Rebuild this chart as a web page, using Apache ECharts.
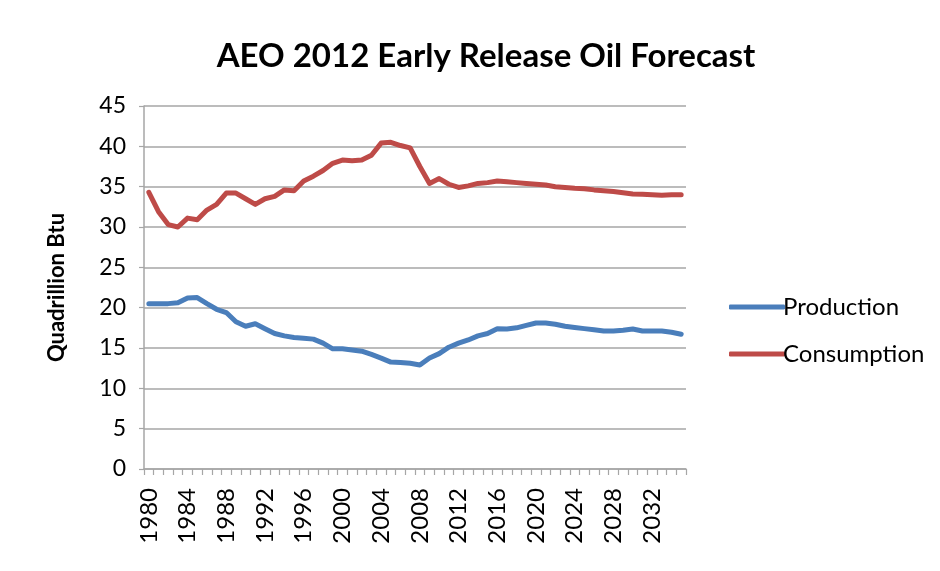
<!DOCTYPE html>
<html>
<head>
<meta charset="utf-8">
<script src="https://cdn.jsdelivr.net/npm/echarts@6/dist/echarts.min.js"></script>
<style>
  html, body { margin: 0; padding: 0; background: #fff; }
  #chart { width: 940px; height: 571px; }
</style>
</head>
<body>
<div id="chart"></div>
<script>
// Years 1980–2035
const years = [];
for (let y = 1980; y <= 2035; y++) years.push(String(y));

// Quadrillion Btu
const production = [
  20.5, 20.5, 20.5, 20.6, 21.2, 21.25, 20.5, 19.8, 19.4, 18.25,
  17.7, 18.0, 17.4, 16.8, 16.5, 16.3, 16.2, 16.1, 15.6, 14.9,
  14.9, 14.75, 14.6, 14.2, 13.75, 13.25, 13.2, 13.1, 12.9, 13.75,
  14.3, 15.1, 15.6, 16.0, 16.5, 16.8, 17.4, 17.35, 17.5, 17.8,
  18.1, 18.1, 17.95, 17.7, 17.55, 17.4, 17.25, 17.1, 17.1, 17.2,
  17.35, 17.1, 17.1, 17.1, 16.95, 16.7
];
const consumption = [
  34.3, 31.9, 30.3, 30.0, 31.1, 30.9, 32.1, 32.8, 34.2, 34.2,
  33.5, 32.8, 33.5, 33.8, 34.6, 34.5, 35.7, 36.3, 37.0, 37.9,
  38.3, 38.2, 38.3, 38.9, 40.4, 40.5, 40.1, 39.8, 37.5, 35.4,
  36.0, 35.3, 34.9, 35.1, 35.4, 35.5, 35.7, 35.6, 35.5, 35.4,
  35.3, 35.2, 35.0, 34.9, 34.8, 34.75, 34.6, 34.5, 34.4, 34.25,
  34.1, 34.05, 34.0, 33.95, 34.0, 34.0
];

const FONT = 'Lato, "Open Sans", sans-serif';
const GRID_GREY = '#a6a6a6';

const chart = echarts.init(document.getElementById('chart'), null, { renderer: 'canvas' });
chart.setOption({
  animation: false,
  backgroundColor: '#ffffff',
  title: {
    text: 'AEO 2012 Early Release Oil Forecast',
    left: 481,
    textAlign: 'center',
    top: 35,
    textStyle: { fontFamily: FONT, fontSize: 33, fontWeight: 'bold', color: '#000' }
  },
  legend: {
    orient: 'vertical',
    left: 724,
    top: 290,
    itemGap: 23,
    itemWidth: 56,
    itemHeight: 5,
    icon: 'roundRect',
    textStyle: { fontFamily: FONT, fontSize: 24, color: '#000', padding: [0, 0, 0, -7] },
    data: ['Production', 'Consumption']
  },
  grid: { left: 144, right: 254, top: 106, bottom: 102, containLabel: false },
  xAxis: {
    type: 'category',
    data: years,
    boundaryGap: true,
    axisLine: { lineStyle: { color: GRID_GREY, width: 1.5 } },
    axisTick: { show: true, interval: 0, length: 6, lineStyle: { color: GRID_GREY, width: 1.2 } },
    axisLabel: {
      interval: 3,
      rotate: 90,
      margin: 19,
      fontFamily: FONT,
      fontSize: 24,
      color: '#000'
    },
    splitLine: { show: false }
  },
  yAxis: {
    type: 'value',
    min: 0,
    max: 45,
    interval: 5,
    name: 'Quadrillion Btu',
    nameLocation: 'middle',
    nameGap: 76,
    nameRotate: 90,
    nameTextStyle: { fontFamily: FONT, fontSize: 22, fontWeight: 'bold', color: '#000' },
    axisLine: { show: true, lineStyle: { color: GRID_GREY, width: 1.5 } },
    axisTick: { show: true, length: 5, lineStyle: { color: GRID_GREY, width: 1.2 } },
    axisLabel: { fontFamily: FONT, fontSize: 23, color: '#000', margin: 18 },
    splitLine: { show: true, lineStyle: { color: GRID_GREY, width: 1.5 } }
  },
  series: [
    {
      name: 'Production',
      type: 'line',
      data: production,
      showSymbol: false,
      symbol: 'none',
      lineStyle: { color: '#4a7ebb', width: 5, cap: 'round', join: 'round' },
      itemStyle: { color: '#4a7ebb' }
    },
    {
      name: 'Consumption',
      type: 'line',
      data: consumption,
      showSymbol: false,
      symbol: 'none',
      lineStyle: { color: '#be4b48', width: 5, cap: 'round', join: 'round' },
      itemStyle: { color: '#be4b48' }
    }
  ]
});
</script>
</body>
</html>
